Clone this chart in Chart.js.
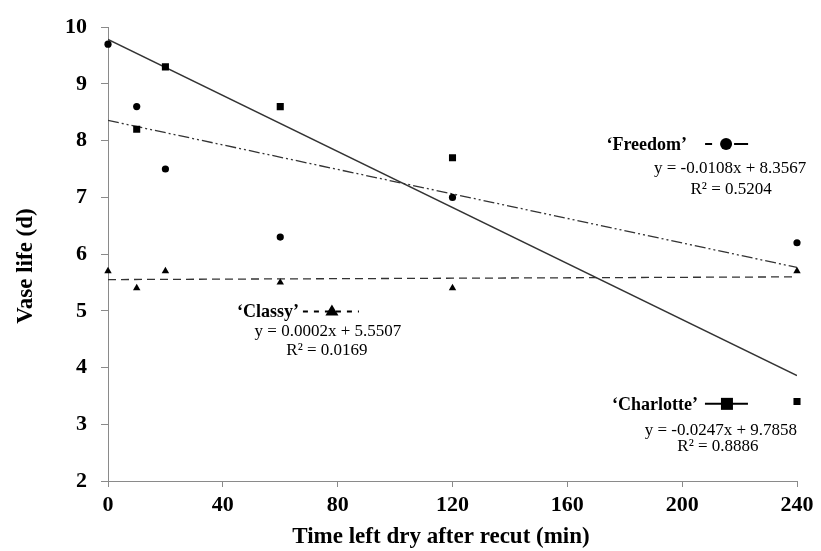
<!DOCTYPE html>
<html>
<head>
<meta charset="utf-8">
<script src="https://cdn.jsdelivr.net/npm/chart.js@4.4.1/dist/chart.umd.min.js"></script>
<style>
  html, body { margin: 0; padding: 0; background: #fff; }
  #wrap { width: 821px; height: 551px; }
</style>
</head>
<body>
<div id="wrap"><canvas id="chart"></canvas></div>
<script>
// time left dry (min) and vase life (d) per cultivar
const times = [0, 10, 20, 60, 120, 240];
const freedom = [9.7, 8.6, 7.5, 6.3, 7.0, 6.2];
// first Charlotte value lies above the 10 d axis limit, so it is clipped like in the original
const charlotte = [10.4, 8.2, 9.3, 8.6, 7.7, 3.4];
const classy = [5.7, 5.4, 5.7, 5.5, 5.4, 5.7];

// linear trend lines as printed on the chart: [slope, intercept, R2]
const freedomFit = [-0.0108, 8.3567, 0.5204];
const charlotteFit = [-0.0247, 9.7858, 0.8886];
const classyFit = [0.0002, 5.5507, 0.0169];

const xTicks = [0, 40, 80, 120, 160, 200, 240];
const yTicks = [2, 3, 4, 5, 6, 7, 8, 9, 10];

const serif = '"Liberation Serif", "Times New Roman", serif';
const lineColor = '#333';
const axisColor = '#8a8a8a';

function pts(ys) {
  return times.map((t, i) => ({ x: t, y: ys[i] }));
}
function fitLine(fit) {
  const x0 = times[0], x1 = times[times.length - 1];
  return [{ x: x0, y: fit[0] * x0 + fit[1] }, { x: x1, y: fit[0] * x1 + fit[1] }];
}
function eqText(fit) {
  const s = fit[0] < 0 ? '-' + Math.abs(fit[0]).toFixed(4) : fit[0].toFixed(4);
  return 'y = ' + s + 'x + ' + fit[1].toFixed(4);
}

// cultivar labels: anchor is the legend marker centre, in data units
const notes = [
  { name: '\u2018Freedom\u2019', fit: freedomFit, style: 'circle', ax: 215.3, ay: 7.94,
    nameDx: -39, eqDx: 4, eqDy: 24, rDx: 5, rDy: 45 },
  { name: '\u2018Classy\u2019', fit: classyFit, style: 'triangle', ax: 78.0, ay: 4.99,
    nameDx: -33, eqDx: -4, eqDy: 20, rDx: -5, rDy: 39 },
  { name: '\u2018Charlotte\u2019', fit: charlotteFit, style: 'rect', ax: 215.6, ay: 3.36,
    nameDx: -29, eqDx: -6, eqDy: 27, rDx: -9, rDy: 43 }
];

function marker(ctx, style, x, y) {
  ctx.fillStyle = '#000';
  ctx.beginPath();
  if (style === 'circle') {
    ctx.arc(x, y, 6, 0, Math.PI * 2);
  } else if (style === 'rect') {
    ctx.rect(x - 6, y - 6, 12, 12);
  } else {
    ctx.moveTo(x, y - 7);
    ctx.lineTo(x + 6.5, y + 4);
    ctx.lineTo(x - 6.5, y + 4);
    ctx.closePath();
  }
  ctx.fill();
}

const notesPlugin = {
  id: 'notes',
  afterDraw(chart) {
    const ctx = chart.ctx;
    const xs = chart.scales.x, ys = chart.scales.y;
    ctx.save();
    notes.forEach(n => {
      const x = xs.getPixelForValue(n.ax), y = ys.getPixelForValue(n.ay);
      // legend sample line
      ctx.strokeStyle = '#000';
      ctx.lineWidth = 2;
      ctx.beginPath();
      if (n.style === 'circle') {
        ctx.moveTo(x - 21, y); ctx.lineTo(x - 14, y);
        ctx.moveTo(x + 8, y); ctx.lineTo(x + 22, y);
      } else if (n.style === 'triangle') {
        ctx.setLineDash([5, 6]);
        ctx.moveTo(x - 29, y); ctx.lineTo(x + 27, y);
      } else {
        ctx.moveTo(x - 22, y); ctx.lineTo(x + 21, y);
      }
      ctx.stroke();
      ctx.setLineDash([]);
      marker(ctx, n.style, x, y);

      ctx.fillStyle = '#000';
      ctx.textBaseline = 'middle';
      ctx.font = 'bold 18px ' + serif;
      ctx.textAlign = 'right';
      ctx.fillText(n.name, x + n.nameDx, y + 1);
      ctx.font = '17px ' + serif;
      ctx.textAlign = 'center';
      ctx.fillText(eqText(n.fit), x + n.eqDx, y + n.eqDy);
      ctx.fillText('R\u00b2 = ' + n.fit[2].toFixed(4), x + n.rDx, y + n.rDy);
    });
    // axis titles
    ctx.font = 'bold 23px ' + serif;
    ctx.textAlign = 'center';
    ctx.textBaseline = 'middle';
    ctx.fillText('Time left dry after recut (min)', 441, 537);
    ctx.translate(26, 266);
    ctx.rotate(-Math.PI / 2);
    ctx.fillText('Vase life (d)', 0, 0);
    ctx.restore();
  }
};

const edgeClip = { left: 10, right: 10, top: 0, bottom: 10 };

new Chart(document.getElementById('chart'), {
  type: 'scatter',
  data: {
    datasets: [
      { label: 'Freedom', data: pts(freedom), pointStyle: 'circle', pointRadius: 3.6,
        backgroundColor: '#000', borderWidth: 0, clip: edgeClip },
      { label: 'Charlotte', data: pts(charlotte), pointStyle: 'rect', pointRadius: 5,
        backgroundColor: '#000', borderWidth: 0, clip: edgeClip },
      { label: 'Classy', data: pts(classy), pointStyle: 'triangle', pointRadius: 4.3,
        backgroundColor: '#000', borderWidth: 0, clip: edgeClip },
      { label: 'Freedom fit', type: 'line', data: fitLine(freedomFit), borderColor: lineColor,
        borderWidth: 1.3, borderDash: [11, 3, 2, 3, 2, 3], pointRadius: 0, fill: false },
      { label: 'Charlotte fit', type: 'line', data: fitLine(charlotteFit), borderColor: lineColor,
        borderWidth: 1.4, pointRadius: 0, fill: false },
      { label: 'Classy fit', type: 'line', data: fitLine(classyFit), borderColor: lineColor,
        borderWidth: 1.3, borderDash: [8, 5], pointRadius: 0, fill: false }
    ]
  },
  options: {
    responsive: true,
    maintainAspectRatio: false,
    animation: false,
    layout: { padding: { top: 23, right: 24, bottom: 0, left: 0 } },
    plugins: { legend: { display: false }, tooltip: { enabled: false } },
    scales: {
      x: {
        type: 'linear',
        min: 0, max: 240,
        afterBuildTicks: s => { s.ticks = xTicks.map(v => ({ value: v })); },
        afterFit: s => { s.height = 70; },
        grid: { drawOnChartArea: false, drawTicks: true, tickLength: 6, color: axisColor },
        border: { color: axisColor, width: 1 },
        ticks: { color: '#000', padding: 5, maxRotation: 0,
          font: { family: serif, size: 22, weight: 'bold' } }
      },
      y: {
        type: 'linear',
        min: 2, max: 10,
        afterBuildTicks: s => { s.ticks = yTicks.map(v => ({ value: v })); },
        afterFit: s => { s.width = 108; },
        grid: { drawOnChartArea: false, drawTicks: true, tickLength: 7, color: axisColor },
        border: { color: axisColor, width: 1 },
        ticks: { color: '#000', padding: 14,
          font: { family: serif, size: 22, weight: 'bold' } }
      }
    }
  },
  plugins: [notesPlugin]
});
</script>
</body>
</html>
